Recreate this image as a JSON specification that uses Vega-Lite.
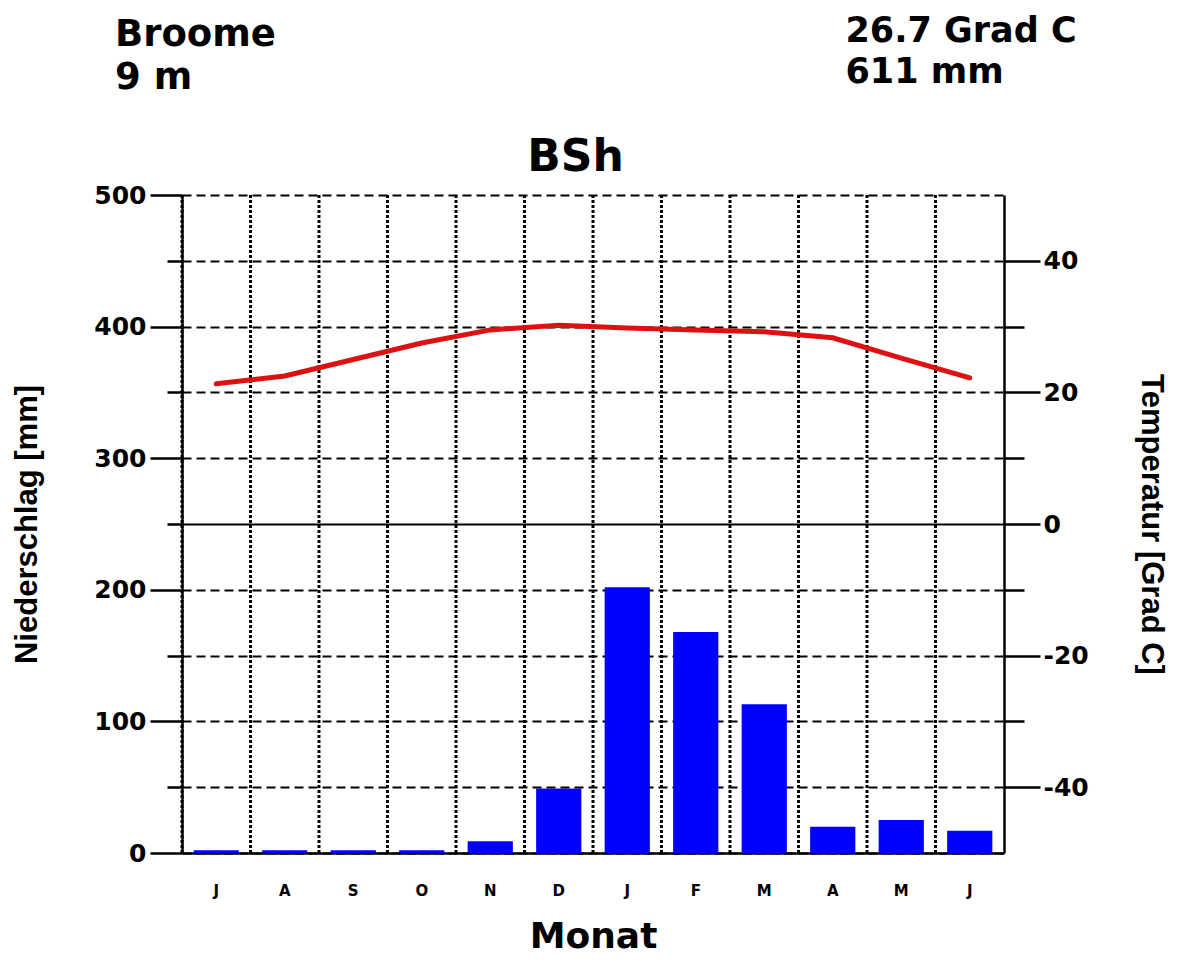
{
  "$schema": "https://vega.github.io/schema/vega-lite/v6.json",
  "width": 822,
  "height": 658,
  "autosize": {"type": "none"},
  "padding": {"left": 182, "top": 195, "right": 187, "bottom": 107},
  "background": "white",
  "config": {
    "view": {"stroke": null},
    "axis": {
      "domainColor": "black",
      "tickColor": "black",
      "labelColor": "black",
      "titleColor": "black",
      "labelFont": "DejaVu Sans",
      "titleFont": "DejaVu Sans",
      "labelFontWeight": "bold",
      "titleFontWeight": "bold"
    }
  },
  "title": {
    "text": ["Broome", "9 m"],
    "anchor": "start",
    "frame": "group",
    "align": "left",
    "dx": -67,
    "offset": -84,
    "fontSize": 37,
    "font": "DejaVu Sans",
    "fontWeight": "bold",
    "color": "black",
    "lineHeight": 43
  },
  "data": {
    "values": [
      {"m": "Jul", "p": 2, "t": 21.3},
      {"m": "Aug", "p": 2, "t": 22.5},
      {"m": "Sep", "p": 2, "t": 25.0},
      {"m": "Oct", "p": 2, "t": 27.5},
      {"m": "Nov", "p": 9, "t": 29.5},
      {"m": "Dec", "p": 49, "t": 30.2},
      {"m": "Jan", "p": 202, "t": 29.8},
      {"m": "Feb", "p": 168, "t": 29.5},
      {"m": "Mar", "p": 113, "t": 29.2},
      {"m": "Apr", "p": 20, "t": 28.3},
      {"m": "May", "p": 25, "t": 25.2},
      {"m": "Jun", "p": 17, "t": 22.2}
    ]
  },
  "layer": [
    {
      "mark": {"type": "rule", "color": "black", "strokeWidth": 3, "strokeDash": [3, 2]},
      "encoding": {
        "x": {
          "field": "m", "type": "ordinal", "sort": null, "bandPosition": 0,
          "axis": {
            "orient": "top", "domain": false, "ticks": false, "labels": false, "grid": false,
            "title": ["26.7 Grad C", "611 mm"],
            "titleX": 663, "titleY": -182, "titleAlign": "left", "titleBaseline": "top", "titleAngle": 0,
            "titleFontSize": 35, "titleLineHeight": 41
          }
        }
      }
    },
    {
      "mark": {"type": "bar", "color": "#0000ff", "width": {"band": 0.66}},
      "encoding": {
        "x": {
          "field": "m", "type": "ordinal", "sort": null,
          "scale": {"paddingInner": 0, "paddingOuter": 0},
          "axis": {
            "orient": "bottom", "labelExpr": "substring(datum.label, 0, 1)", "ticks": false,
            "labelPadding": 30, "labelFontSize": 15, "labelAngle": 0, "labelBaseline": "top",
            "domainWidth": 2.5, "grid": false,
            "title": "Monat", "titleFontSize": 36, "titleX": 411, "titleY": 94,
            "titleBaseline": "alphabetic", "titleAlign": "center"
          }
        },
        "y": {
          "field": "p", "type": "quantitative",
          "scale": {"domain": [0, 500], "nice": false},
          "axis": {
            "orient": "left",
            "values": [0, 50, 100, 150, 200, 250, 300, 350, 400, 450, 500],
            "labelExpr": "datum.value % 100 === 0 ? datum.label : ''",
            "tickSize": {"condition": {"test": "datum.value % 100 === 0", "value": 32}, "value": 15},
            "tickWidth": 2.5, "domainWidth": 2.5,
            "grid": true, "gridColor": "black", "gridWidth": 2, "gridOpacity": 1,
            "gridDash": {"condition": {"test": "datum.value === 250", "value": []}, "value": [9, 5]},
            "labelFontSize": 25, "labelPadding": 4,
            "title": "Niederschlag [mm]", "titleFont": "Liberation Sans", "titleFontSize": 31,
            "titleX": -155, "titleY": 329, "titleAngle": -90, "titleBaseline": "middle", "titleAlign": "center"
          }
        }
      }
    },
    {
      "mark": {"type": "line", "color": "#dd1111", "strokeWidth": 5, "strokeCap": "round"},
      "encoding": {
        "x": {
          "field": "m", "type": "ordinal", "sort": null,
          "axis": {
            "orient": "top", "domain": false, "ticks": false, "labels": false, "grid": false,
            "title": "BSh", "titleX": 393, "titleY": -25, "titleAlign": "center",
            "titleBaseline": "alphabetic", "titleAngle": 0, "titleFontSize": 44
          }
        },
        "y": {
          "field": "t", "type": "quantitative",
          "scale": {"domain": [-50, 50], "nice": false},
          "axis": {
            "orient": "right",
            "values": [-40, -30, -20, -10, 0, 10, 20, 30, 40],
            "labelExpr": "datum.value % 20 === 0 ? '' + datum.value : ''",
            "tickSize": {"condition": {"test": "datum.value % 20 === 0", "value": 36}, "value": 20},
            "tickWidth": 2.5, "domainWidth": 2.5, "grid": false,
            "labelFontSize": 25, "labelPadding": 3,
            "title": "Temperatur [Grad C]", "titleFont": "Liberation Sans", "titleFontSize": 31,
            "titleX": 146, "titleY": 329, "titleAngle": 90, "titleBaseline": "middle", "titleAlign": "center"
          }
        }
      }
    }
  ],
  "resolve": {
    "scale": {"y": "independent"},
    "axis": {"x": "independent", "y": "independent"}
  }
}
